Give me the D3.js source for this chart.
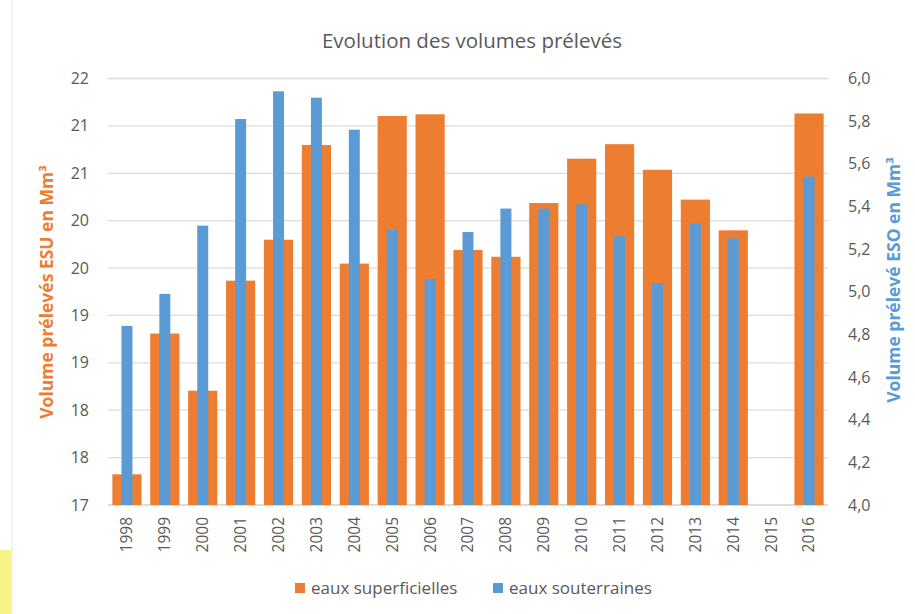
<!DOCTYPE html>
<html><head><meta charset="utf-8">
<script src="https://cdn.jsdelivr.net/npm/d3@7"></script>
<style>body{margin:0;background:#fff;} svg{display:block;font-family:"Open Sans",Lato,sans-serif;}</style>
</head><body>
<svg id="c" width="915" height="614"></svg>
<script>
const years = ["1998","1999","2000","2001","2002","2003","2004","2005","2006","2007","2008","2009","2010","2011","2012","2013","2014","2015","2016"];
const esu = [17.36,19.01,18.34,19.63,20.11,21.22,19.83,21.56,21.58,19.99,19.91,20.54,21.06,21.23,20.93,20.58,20.22,null,21.59];
const eso = [4.84,4.99,5.31,5.81,5.94,5.91,5.76,5.29,5.06,5.28,5.39,5.39,5.41,5.26,5.04,5.32,5.25,null,5.54];
const leftTicks = [17,17.5556,18.1111,18.6667,19.2222,19.7778,20.3333,20.8889,21.4444,22];
const rightTicks = [4.0,4.2,4.4,4.6,4.8,5.0,5.2,5.4,5.6,5.8,6.0];
const seriesNames = ["eaux superficielles","eaux souterraines"];

const svg = d3.select("#c");
const orange = "#ED7D31", blue = "#5B9BD5", grey = "#595959";
const m = {l:108, r:828, t:78.5, b:505};

svg.append("rect").attr("x",0).attr("y",550).attr("width",11).attr("height",64).attr("fill","#f4f06a").attr("opacity",0.8);
svg.append("line").attr("x1",12).attr("x2",12).attr("y1",0).attr("y2",614).attr("stroke","#e6e6e6");

const x = d3.scaleBand().domain(years).range([m.l,m.r]).paddingInner(0).paddingOuter(0);
const yL = d3.scaleLinear().domain([17,22]).range([m.b,m.t]);
const yR = d3.scaleLinear().domain([4,6]).range([m.b,m.t]);

svg.append("g").selectAll("line").data(leftTicks).join("line")
  .attr("x1",m.l).attr("x2",m.r).attr("y1",d=>yL(d)).attr("y2",d=>yL(d))
  .attr("stroke",d=>d===17?"#d0d0d0":"#dcdcdc").attr("stroke-width",1.3);

svg.append("g").selectAll("text").data(leftTicks).join("text")
  .attr("x",89).attr("y",d=>yL(d)).attr("dy","0.35em").attr("text-anchor","end")
  .attr("font-size",16).attr("fill",grey).text(d=>Math.round(d));

svg.append("g").selectAll("text").data(rightTicks).join("text")
  .attr("x",848).attr("y",d=>yR(d)).attr("dy","0.35em").attr("text-anchor","start")
  .attr("font-size",16).attr("fill",grey).text(d=>d.toFixed(1).replace(".",","));

const bw = x.bandwidth();
const ow = bw*0.77, bwid = bw*0.29;
svg.append("g").selectAll("rect").data(years.map((y,i)=>({y,v:esu[i]})).filter(d=>d.v!=null)).join("rect")
  .attr("x",d=>x(d.y)+(bw-ow)/2).attr("width",ow)
  .attr("y",d=>yL(d.v)).attr("height",d=>yL(17)-yL(d.v)).attr("fill",orange);
svg.append("g").selectAll("rect").data(years.map((y,i)=>({y,v:eso[i]})).filter(d=>d.v!=null)).join("rect")
  .attr("x",d=>x(d.y)+(bw-bwid)/2).attr("width",bwid)
  .attr("y",d=>yR(d.v)).attr("height",d=>yR(4)-yR(d.v)).attr("fill",blue);

svg.append("g").selectAll("text").data(years).join("text")
  .attr("transform",d=>`translate(${x(d)+bw/2},517) rotate(-90)`)
  .attr("dy","0.35em").attr("text-anchor","end").attr("font-size",15.5).attr("fill",grey).text(d=>d);

svg.append("text").attr("x",472).attr("y",48).attr("text-anchor","middle")
  .attr("font-size",20.5).attr("fill",grey).text("Evolution des volumes prélevés");

svg.append("text").attr("transform","translate(53,292) rotate(-90)").attr("text-anchor","middle")
  .attr("font-size",17.5).attr("font-weight","bold").attr("fill",orange).text("Volume prélevés ESU en Mm³");
svg.append("text").attr("transform","translate(900,280) rotate(-90)").attr("text-anchor","middle")
  .attr("font-size",17.5).attr("font-weight","bold").attr("fill",blue).text("Volume prélevé ESO en Mm³");

const leg = [{n:seriesNames[0],c:orange,x:295},{n:seriesNames[1],c:blue,x:493}];
const lg = svg.append("g").selectAll("g").data(leg).join("g");
lg.append("rect").attr("x",d=>d.x).attr("y",583).attr("width",10).attr("height",10).attr("fill",d=>d.c);
lg.append("text").attr("x",d=>d.x+16).attr("y",588).attr("dy","0.35em").attr("font-size",17).attr("fill",grey).text(d=>d.n);
</script>
</body></html>
